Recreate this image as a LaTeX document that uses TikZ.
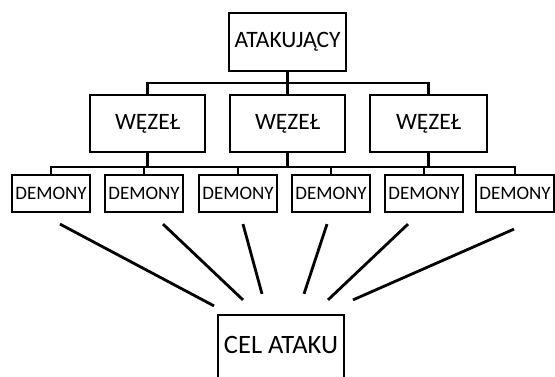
\documentclass[tikz,border=0pt]{standalone}
\usepackage{fontspec}
\setmainfont{Carlito}
\begin{document}
\begin{tikzpicture}[x=1pt,y=-1pt,line width=2.2pt,
    box/.style={draw,inner sep=0pt,font=\fontsize{23.5}{28}\selectfont},
    demon/.style={draw,inner sep=0pt,minimum width=78pt,minimum height=37pt,font=\fontsize{19}{22}\selectfont},
    ray/.style={line width=2.8pt}]
  \useasboundingbox (0,0) rectangle (555,376);
  \clip (0,0) rectangle (555,376);
  \node[box,minimum width=117pt,minimum height=58pt] (atak) at (287.5,42) {ATAKUJĄCY};
  \node[box,minimum width=115pt,minimum height=57pt] (w1) at (147.5,123.5) {WĘZEŁ};
  \node[box,minimum width=115pt,minimum height=57pt] (w2) at (287.5,123.5) {WĘZEŁ};
  \node[box,minimum width=117pt,minimum height=57pt] (w3) at (428.5,123.5) {WĘZEŁ};
  \node[demon] (d1) at (51,193.5) {DEMONY};
  \node[demon] (d2) at (144,193.5) {DEMONY};
  \node[demon] (d3) at (238,193.5) {DEMONY};
  \node[demon] (d4) at (331,193.5) {DEMONY};
  \node[demon] (d5) at (424,193.5) {DEMONY};
  \node[demon] (d6) at (515,193.5) {DEMONY};
  \node[box,minimum width=126pt,minimum height=66pt,text depth=6pt,font=\fontsize{26.5}{31}\selectfont] (cel) at (281,348) {CEL ATAKU};
  \coordinate (bus1) at (287.5,83);
  \coordinate (bus2) at (287.5,167);
  \draw (atak) -- (bus1);
  \draw (w1.north) |- (bus1) -| (w3.north);
  \draw (w2) -- (bus1);
  \draw (d1.north) |- (bus2) -| (d6.north);
  \foreach \n in {w1,w2,w3,d2,d3,d4,d5}
    \draw (\n) -- (\n |- bus2);
  \foreach \d/\sx/\sy/\ex/\ey in {1/9/11/-67/-8, 2/19/11/-38/-14, 3/5/11/-19/-20, 4/-4/11/23/-20, 5/-16/11/47/-14, 6/-1/16/72/-14}
    \draw[ray] ([shift={(\sx,\sy)}]d\d.south) -- ([shift={(\ex,\ey)}]cel.north);
\end{tikzpicture}
\end{document}
